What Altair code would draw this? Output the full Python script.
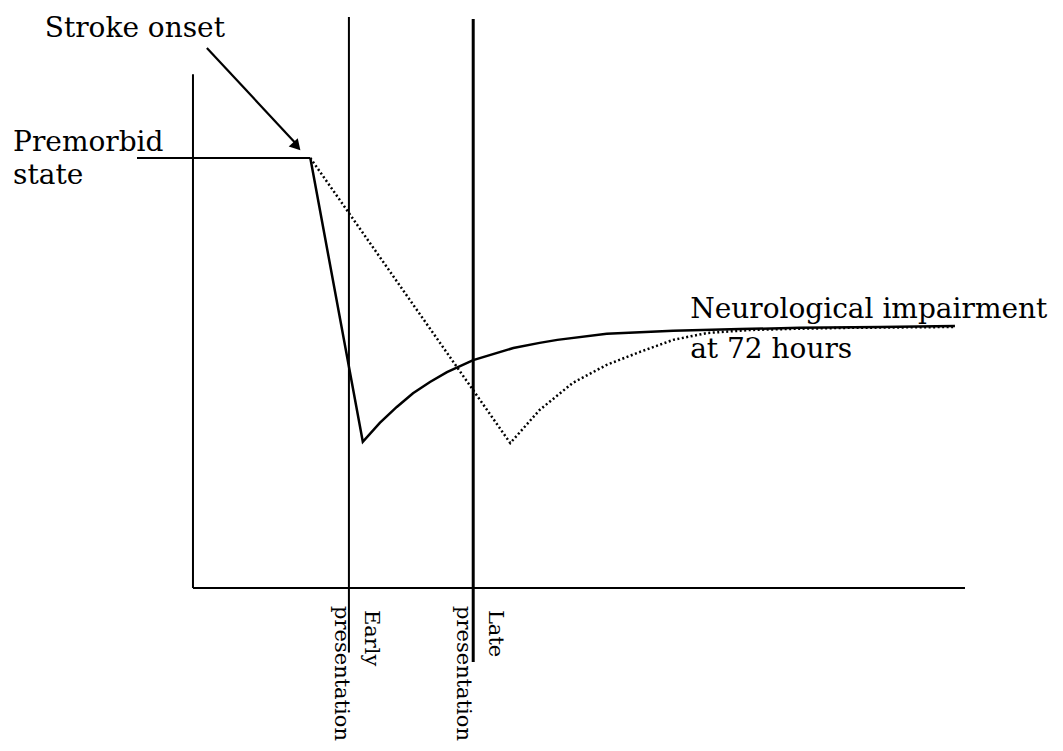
import altair as alt
import pandas as pd

# ---- data (abstract units: time t along x, function level v along y) ----
# straight segments: axes, premorbid level, presentation markers, arrow shaft
seg_name = ["y_axis", "x_axis", "premorbid", "early", "late", "arrow"]
seg_t = [0.0, 0.0, -7.25, 20.2, 36.3, 1.8]
seg_v = [0.0, 0.0, 100.0, -15.0, -17.2, 125.6]
seg_t2 = [0.0, 100.0, 15.2, 20.2, 36.3, 13.2]
seg_v2 = [119.5, 0.0, 100.0, 132.8, 132.3, 103.6]
seg_w = [2.0, 2.0, 2.0, 2.0, 3.0, 2.2]

# solid course (early presentation)
solid_t = [15.2, 22.0, 24.2, 26.4, 28.5, 30.7, 32.9, 36.3, 41.5, 44.9, 47.2,
           53.6, 62.2, 70.9, 78.6, 89.0, 98.7]
solid_v = [100.0, 34.0, 38.4, 42.1, 45.3, 47.9, 50.2, 53.0, 55.8, 57.0, 57.7,
           59.1, 59.8, 60.2, 60.5, 60.7, 60.9]

# dotted course (late presentation)
dotted_t = [15.2, 41.1, 44.9, 49.2, 53.6, 57.9, 62.2, 66.6, 72.2, 78.6, 85.1, 98.7]
dotted_v = [100.0, 33.7, 41.4, 47.7, 51.9, 54.9, 57.7, 59.3, 60.0, 60.3, 60.5, 60.7]

# arrow head
head_t = [13.45]
head_v = [102.7]
head_angle = [137.7]

# horizontal labels
lab_text = ["Stroke onset", "Premorbid", "state", "Neurological impairment", "at 72 hours"]
lab_t = [-19.2, -23.3, -23.3, 64.4, 64.4]
lab_v = [128.1, 101.6, 94.0, 62.8, 53.6]

# rotated labels
rot_text = ["Early", "presentation", "Late", "presentation"]
rot_t = [22.3, 18.4, 38.3, 34.2]
rot_v = [-5.1, -4.2, -5.1, -4.2]

# ---- chart ----
W, H = 1047, 735
xs = alt.Scale(domain=[-23.96, 111.66], nice=False, zero=False)
ys = alt.Scale(domain=[-36.05, 134.88], nice=False, zero=False)
X = lambda f: alt.X(f, type="quantitative", scale=xs, axis=None)
Y = lambda f: alt.Y(f, type="quantitative", scale=ys, axis=None)

seg_df = pd.DataFrame({"name": seg_name, "t": seg_t, "v": seg_v,
                       "t2": seg_t2, "v2": seg_v2, "w": seg_w})
solid_df = pd.DataFrame({"t": solid_t, "v": solid_v, "i": range(len(solid_t))})
dotted_df = pd.DataFrame({"t": dotted_t, "v": dotted_v, "i": range(len(dotted_t))})
head_df = pd.DataFrame({"t": head_t, "v": head_v, "a": head_angle})
lab_df = pd.DataFrame({"text": lab_text, "t": lab_t, "v": lab_v})
rot_df = pd.DataFrame({"text": rot_text, "t": rot_t, "v": rot_v})

segs = alt.Chart(seg_df).mark_rule(color="black").encode(
    x=X("t"), y=Y("v"), x2="t2", y2="v2",
    strokeWidth=alt.StrokeWidth("w:Q", scale=None, legend=None),
)

solid = alt.Chart(solid_df).mark_line(color="black", strokeWidth=2.5).encode(
    x=X("t"), y=Y("v"), order="i:Q"
)

dotted = alt.Chart(dotted_df).mark_line(
    color="black", strokeWidth=2.5, strokeDash=[2, 2.5]
).encode(x=X("t"), y=Y("v"), order="i:Q")

head = alt.Chart(head_df).mark_point(
    shape="triangle-up", filled=True, color="black", size=150, opacity=1
).encode(x=X("t"), y=Y("v"), angle=alt.Angle("a:Q", scale=None))

labels = alt.Chart(lab_df).mark_text(
    align="left", baseline="alphabetic", font="DejaVu Serif", fontSize=28, color="black"
).encode(x=X("t"), y=Y("v"), text="text:N")

rot = alt.Chart(rot_df).mark_text(
    align="left", baseline="alphabetic", font="DejaVu Serif", fontSize=21,
    color="black", angle=90
).encode(x=X("t"), y=Y("v"), text="text:N")

chart = alt.layer(segs, solid, dotted, head, labels, rot).properties(
    width=W, height=H, padding=0,
    autosize=alt.AutoSizeParams(type="none"),
    background="white",
).configure_view(stroke=None)

chart.save("out.html", embed_options={"renderer": "svg", "actions": False})
